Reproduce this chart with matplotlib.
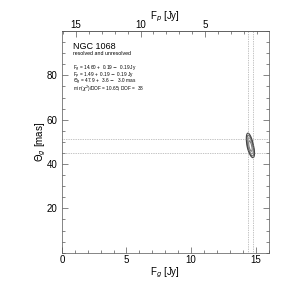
import numpy as np
import matplotlib
matplotlib.use("Agg")
import matplotlib.pyplot as plt
from matplotlib.ticker import MultipleLocator

plt.rcParams['font.family'] = ['Liberation Sans', 'DejaVu Sans']

# Fit results
source = "NGC 1068"
subtitle = "resolved and unresolved"
fg, fg_up, fg_lo = 14.60, 0.19, 0.19
fp, fp_up, fp_lo = 1.49, 0.19, 0.19
th, th_up, th_lo = 47.9, 3.6, 3.0
chi2_dof, dof = 10.65, 38
ftot = fg + fp
rho = -0.6
levels = [0.5, 1.2, 2.0, 2.8]

fig = plt.figure(figsize=(2.99, 2.94), dpi=100)
ax = fig.add_axes([0.207, 0.1405, 0.691, 0.754])
ax.set_xlim(0, 16)
ax.set_ylim(0, 100)

# chi2 surface (asymmetric errors in theta)
x = np.linspace(13.5, 15.5, 400)
y = np.linspace(30, 70, 400)
X, Y = np.meshgrid(x, y)
sx = (fg_up + fg_lo) / 2
sy = np.where(Y > th, th_up, th_lo)
dx = (X - fg) / sx
dy = (Y - th) / sy
Z = (dx**2 + dy**2 - 2 * rho * dx * dy) / (1 - rho**2)
ax.contour(X, Y, Z, levels=levels, colors=['#777777', '#999999', '#666666', '#444444'], linewidths=0.8)

dot = dict(color='#888888', lw=0.5, ls=(0, (1, 1.5)))
for v in (fg - fg_lo, fg + fg_up):
    ax.axvline(v, **dot)
for v in (th - th_lo, th + th_up):
    ax.axhline(v, **dot)

ax.xaxis.set_major_locator(MultipleLocator(5))
ax.xaxis.set_minor_locator(MultipleLocator(1))
ax.yaxis.set_major_locator(MultipleLocator(20))
ax.yaxis.set_minor_locator(MultipleLocator(5))
ax.tick_params(which='both', direction='in', top=False, right=True, labelsize=7, color='#555555')
ax.tick_params(which='major', length=4, width=0.5)
ax.tick_params(which='minor', length=2, width=0.5)
ax.tick_params(axis='x', which='both', pad=2)
ax.tick_params(axis='y', which='both', labelright=False, pad=3)
ax.set_yticks([20, 40, 60, 80])
for s in ax.spines.values():
    s.set_linewidth(0.5)
    s.set_color('#555555')
ax.set_xlabel(r'F$_g$ [Jy]', fontsize=7, labelpad=0)
ax.set_ylabel(r'$\Theta_g$ [mas]', fontsize=7, labelpad=-1)

sec = ax.secondary_xaxis('top', functions=(lambda f: ftot - f, lambda f: ftot - f))
sec.xaxis.set_major_locator(MultipleLocator(5))
sec.xaxis.set_minor_locator(MultipleLocator(1))
sec.tick_params(which='both', direction='in', labelsize=7, color='#555555', pad=1)
sec.tick_params(which='major', length=4, width=0.5)
sec.tick_params(which='minor', length=2, width=0.5)
sec.set_xticks([5, 10, 15])
sec.spines['top'].set_linewidth(0.5)
sec.spines['top'].set_color('#555555')
sec.set_xlabel(r'F$_p$ [Jy]', fontsize=7, labelpad=0)

ax.text(0.055, 0.918, source, transform=ax.transAxes, fontsize=6.5)
ax.text(0.055, 0.893, subtitle, transform=ax.transAxes, fontsize=3.8)
lines = [
    rf'F$_g$ = {fg:.2f} +  {fg_up:.2f} $-$  {fg_lo:.2f} Jy',
    rf'F$_p$ = {fp:.2f} +  {fp_up:.2f} $-$  {fp_lo:.2f} Jy',
    rf'$\Theta_g$ = {th:.1f} +   {th_up:.1f} $-$   {th_lo:.1f} mas',
    rf'min($\chi^2$)/DOF = {chi2_dof:.2f}; DOF =  {dof}',
]
ax.text(0.055, 0.852, '\n'.join(lines), transform=ax.transAxes, fontsize=3.4,
        va='top', linespacing=0.45)

fig.savefig('out.png', dpi=100)
